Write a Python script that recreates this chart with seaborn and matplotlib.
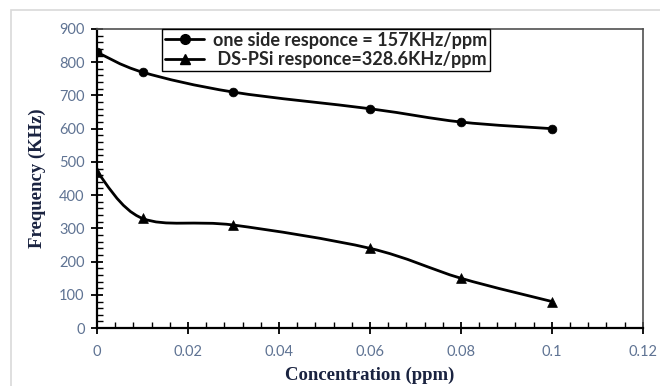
import numpy as np
import seaborn as sns
import matplotlib
matplotlib.use('Agg')
from matplotlib import pyplot as plt
from matplotlib.path import Path
from matplotlib.patches import PathPatch, Rectangle
from matplotlib.lines import Line2D
import matplotlib.ticker as mtick

conc = [0, 0.01, 0.03, 0.06, 0.08, 0.1]
one_side = [830, 770, 710, 660, 620, 600]
ds_psi = [470, 330, 310, 240, 150, 80]
series_labels = ['one side responce = 157KHz/ppm', ' DS-PSi responce=328.6KHz/ppm']

sns.set_style('ticks')
plt.rcParams['font.family'] = ['Lato', 'DejaVu Sans']

tick_col = '#5f7393'
label_col = '#1a2340'


def smooth_path(xs, ys):
    # excel-like smoothed line: bezier segments through the points
    pts = np.column_stack([xs, ys]).astype(float)
    n = len(pts)
    verts = [pts[0]]
    codes = [Path.MOVETO]
    for i in range(n - 1):
        p0 = pts[max(i - 1, 0)]
        p1 = pts[i]
        p2 = pts[i + 1]
        p3 = pts[min(i + 2, n - 1)]
        verts += [p1 + (p2 - p0) / 6, p2 - (p3 - p1) / 6, p2]
        codes += [Path.CURVE4] * 3
    return Path(verts, codes)


fig = plt.figure(figsize=(6.6, 3.86), dpi=100)
fig.patches.append(Rectangle((11 / 660, -0.1), 1.0, 1.1 - 10 / 386, transform=fig.transFigure,
                             fill=False, edgecolor='#d9d9d9', lw=1.2))
ax = fig.add_axes([0.147, 0.150, 0.827, 0.775])

for ys, mk, sz in [(one_side, 'o', 40), (ds_psi, '^', 50)]:
    ax.add_patch(PathPatch(smooth_path(conc, ys), fill=False, edgecolor='black', lw=2, zorder=2))
    sns.scatterplot(x=conc, y=ys, marker=mk, s=sz, color='black', edgecolor='black',
                    linewidth=0.5, ax=ax, zorder=3, legend=False)

ax.set_xlim(0, 0.12)
ax.set_ylim(0, 900)
ax.xaxis.set_major_locator(mtick.MultipleLocator(0.02))
ax.xaxis.set_minor_locator(mtick.MultipleLocator(0.004))
ax.yaxis.set_major_locator(mtick.MultipleLocator(100))
ax.yaxis.set_minor_locator(mtick.MultipleLocator(20))
ax.xaxis.set_major_formatter(mtick.FuncFormatter(lambda v, p: f'{v:.2f}'.rstrip('0').rstrip('.')))

for s in ['left', 'bottom']:
    ax.spines[s].set_color('black')
    ax.spines[s].set_linewidth(1.6)
for s in ['top', 'right']:
    ax.spines[s].set_color('#505050')
    ax.spines[s].set_linewidth(1.2)

ax.tick_params(which='major', direction='inout', length=8, width=1.3, color='black',
               labelsize=10.5, labelcolor=tick_col, pad=5)
ax.tick_params(which='minor', direction='in', length=4, width=1.0, color='black')
ax.tick_params(axis='x', which='major', pad=8)

ax.set_xlabel('Concentration (ppm)', family='Liberation Serif', fontweight='bold',
              fontsize=13.5, color=label_col)
ax.set_ylabel('Frequency (KHz)', family='Liberation Serif', fontweight='bold',
              fontsize=13.5, color=label_col)
ax.xaxis.set_label_coords(0.5, -0.13)
ax.yaxis.set_label_coords(-0.093, 0.5)

handles = [Line2D([], [], color='black', lw=2, marker='o', markersize=7),
           Line2D([], [], color='black', lw=2, marker='^', markersize=7)]
leg = ax.legend(handles, series_labels, loc='upper left', bbox_to_anchor=(0.119, 1.0),
                borderaxespad=0, fancybox=False, framealpha=1, edgecolor='black',
                prop={'family': 'Lato', 'weight': 'bold', 'size': 13},
                handlelength=2.2, handletextpad=0.5, borderpad=0.15, labelspacing=0.15)
leg.get_frame().set_linewidth(1.0)

fig.savefig('out.png', dpi=100)
